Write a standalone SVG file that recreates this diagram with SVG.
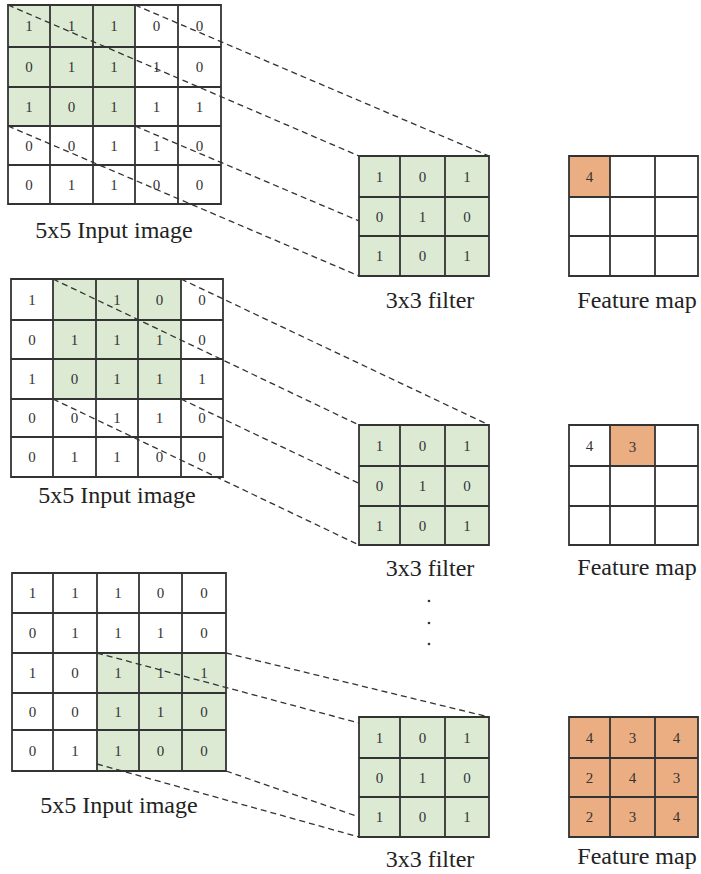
<svg xmlns="http://www.w3.org/2000/svg" width="701" height="874" viewBox="0 0 701 874">
<defs>
<style>
.gl{stroke:#333;stroke-width:1.8;fill:none}
.gr{fill:#dceAd4}
.or{fill:#ebae82}
.t{font-family:"Liberation Serif","Times New Roman",serif;font-size:15px;fill:#333;text-anchor:middle}
.lbl{font-family:"Liberation Serif","Times New Roman",serif;font-size:24px;fill:#222;text-anchor:middle}
.d{stroke:#333;stroke-width:1.3;stroke-dasharray:6 4;fill:none}
</style>
</defs>
<rect width="701" height="874" fill="#fff"/>

<!-- Top section -->
<g id="input1">
<rect class="gr" x="8" y="5" width="127" height="121"/>
<path class="gl" d="M8 5H221V204H8Z M50 5V204 M93 5V204 M135 5V204 M178 5V204 M8 47H221 M8 87H221 M8 126H221 M8 165H221"/>
<g class="t">
<text x="29" y="31">1</text><text x="71.5" y="31">1</text><text x="114" y="31">1</text><text x="156.5" y="31">0</text><text x="199.5" y="31">0</text>
<text x="29" y="72">0</text><text x="71.5" y="72">1</text><text x="114" y="72">1</text><text x="156.5" y="72">1</text><text x="199.5" y="72">0</text>
<text x="29" y="111.5">1</text><text x="71.5" y="111.5">0</text><text x="114" y="111.5">1</text><text x="156.5" y="111.5">1</text><text x="199.5" y="111.5">1</text>
<text x="29" y="150.5">0</text><text x="71.5" y="150.5">0</text><text x="114" y="150.5">1</text><text x="156.5" y="150.5">1</text><text x="199.5" y="150.5">0</text>
<text x="29" y="189.5">0</text><text x="71.5" y="189.5">1</text><text x="114" y="189.5">1</text><text x="156.5" y="189.5">0</text><text x="199.5" y="189.5">0</text>
</g>
<text class="lbl" x="114" y="238">5x5 Input image</text>
</g>

<!-- Middle section input -->
<g id="input2">
<rect class="gr" x="53" y="279" width="128" height="120"/>
<path class="gl" d="M11 279H223V477H11Z M53 279V477 M96 279V477 M138 279V477 M181 279V477 M11 320H223 M11 359H223 M11 399H223 M11 437H223"/>
<g class="t">
<text x="32" y="304.5">1</text><text x="117" y="304.5">1</text><text x="159.5" y="304.5">0</text><text x="202" y="304.5">0</text>
<text x="32" y="344.5">0</text><text x="74.5" y="344.5">1</text><text x="117" y="344.5">1</text><text x="159.5" y="344.5">1</text><text x="202" y="344.5">0</text>
<text x="32" y="384">1</text><text x="74.5" y="384">0</text><text x="117" y="384">1</text><text x="159.5" y="384">1</text><text x="202" y="384">1</text>
<text x="32" y="423">0</text><text x="74.5" y="423">0</text><text x="117" y="423">1</text><text x="159.5" y="423">1</text><text x="202" y="423">0</text>
<text x="32" y="462">0</text><text x="74.5" y="462">1</text><text x="117" y="462">1</text><text x="159.5" y="462">0</text><text x="202" y="462">0</text>
</g>
<text class="lbl" x="117" y="503">5x5 Input image</text>
</g>

<!-- Bottom section input -->
<g id="input3">
<rect class="gr" x="97" y="653" width="129" height="118"/>
<path class="gl" d="M12 573H226V771H12Z M53 573V771 M97 573V771 M139 573V771 M182 573V771 M12 613H226 M12 653H226 M12 693H226 M12 730H226"/>
<g class="t">
<text x="32.5" y="598">1</text><text x="75" y="598">1</text><text x="118" y="598">1</text><text x="160.5" y="598">0</text><text x="204" y="598">0</text>
<text x="32.5" y="638">0</text><text x="75" y="638">1</text><text x="118" y="638">1</text><text x="160.5" y="638">1</text><text x="204" y="638">0</text>
<text x="32.5" y="678">1</text><text x="75" y="678">0</text><text x="118" y="678">1</text><text x="160.5" y="678">1</text><text x="204" y="678">1</text>
<text x="32.5" y="716.5">0</text><text x="75" y="716.5">0</text><text x="118" y="716.5">1</text><text x="160.5" y="716.5">1</text><text x="204" y="716.5">0</text>
<text x="32.5" y="755.5">0</text><text x="75" y="755.5">1</text><text x="118" y="755.5">1</text><text x="160.5" y="755.5">0</text><text x="204" y="755.5">0</text>
</g>
<text class="lbl" x="119" y="813">5x5 Input image</text>
</g>

<!-- Connectors -->
<g id="connectors">
<path class="d" d="M8 5L359 156 M135 5L489 156 M8 126L359 276 M135 126L489 276"/>
<path class="d" d="M53 279L359 425 M181 279L489 425 M53 399L359 545 M181 399L489 545"/>
<path class="d" d="M97 653L359 723 M226 653L489 717 M226 771L359 817 M97 764L359 837"/>
</g>

<!-- Filters -->
<g id="filter1">
<rect class="gr" x="359" y="156" width="130" height="120"/>
<path class="gl" d="M359 156H489V276H359Z M400 156V276 M445 156V276 M359 197H489 M359 236H489"/>
<g class="t">
<text x="379.5" y="181.5">1</text><text x="422.5" y="181.5">0</text><text x="467" y="181.5">1</text>
<text x="379.5" y="221.5">0</text><text x="422.5" y="221.5">1</text><text x="467" y="221.5">0</text>
<text x="379.5" y="261">1</text><text x="422.5" y="261">0</text><text x="467" y="261">1</text>
</g>
<text class="lbl" x="430" y="308">3x3 filter</text>
</g>

<g id="filter2">
<rect class="gr" x="359" y="425" width="130" height="120"/>
<path class="gl" d="M359 425H489V545H359Z M400 425V545 M445 425V545 M359 466H489 M359 506H489"/>
<g class="t">
<text x="379.5" y="450.5">1</text><text x="422.5" y="450.5">0</text><text x="467" y="450.5">1</text>
<text x="379.5" y="491">0</text><text x="422.5" y="491">1</text><text x="467" y="491">0</text>
<text x="379.5" y="530.5">1</text><text x="422.5" y="530.5">0</text><text x="467" y="530.5">1</text>
</g>
<text class="lbl" x="430" y="576">3x3 filter</text>
</g>

<g id="filter3">
<rect class="gr" x="359" y="717" width="130" height="120"/>
<path class="gl" d="M359 717H489V837H359Z M400 717V837 M445 717V837 M359 758H489 M359 797H489"/>
<g class="t">
<text x="379.5" y="742.5">1</text><text x="422.5" y="742.5">0</text><text x="467" y="742.5">1</text>
<text x="379.5" y="782.5">0</text><text x="422.5" y="782.5">1</text><text x="467" y="782.5">0</text>
<text x="379.5" y="822">1</text><text x="422.5" y="822">0</text><text x="467" y="822">1</text>
</g>
<text class="lbl" x="430" y="867">3x3 filter</text>
</g>

<!-- Feature maps -->
<g id="feature1">
<rect class="or" x="569" y="156" width="41" height="41"/>
<path class="gl" d="M569 156H698V276H569Z M610 156V276 M655 156V276 M569 197H698 M569 236H698"/>
<text class="t" x="589.5" y="181.5">4</text>
<text class="lbl" x="637" y="308">Feature map</text>
</g>

<g id="feature2">
<rect class="or" x="610" y="425" width="45" height="41"/>
<path class="gl" d="M569 425H698V545H569Z M610 425V545 M655 425V545 M569 466H698 M569 506H698"/>
<text class="t" x="589.5" y="450.5">4</text><text class="t" x="632.5" y="452">3</text>
<text class="lbl" x="637" y="575">Feature map</text>
</g>

<g id="dots" fill="#333">
<circle cx="429" cy="601" r="1.3"/><circle cx="429" cy="623" r="1.3"/><circle cx="429" cy="644" r="1.3"/>
</g>

<g id="feature3">
<rect class="or" x="569" y="717" width="129" height="120"/>
<path class="gl" d="M569 717H698V837H569Z M610 717V837 M655 717V837 M569 758H698 M569 797H698"/>
<g class="t">
<text x="589.5" y="742.5">4</text><text x="632.5" y="742.5">3</text><text x="676.5" y="742.5">4</text>
<text x="589.5" y="782.5">2</text><text x="632.5" y="782.5">4</text><text x="676.5" y="782.5">3</text>
<text x="589.5" y="822">2</text><text x="632.5" y="822">3</text><text x="676.5" y="822">4</text>
</g>
<text class="lbl" x="637" y="864">Feature map</text>
</g>
</svg>
